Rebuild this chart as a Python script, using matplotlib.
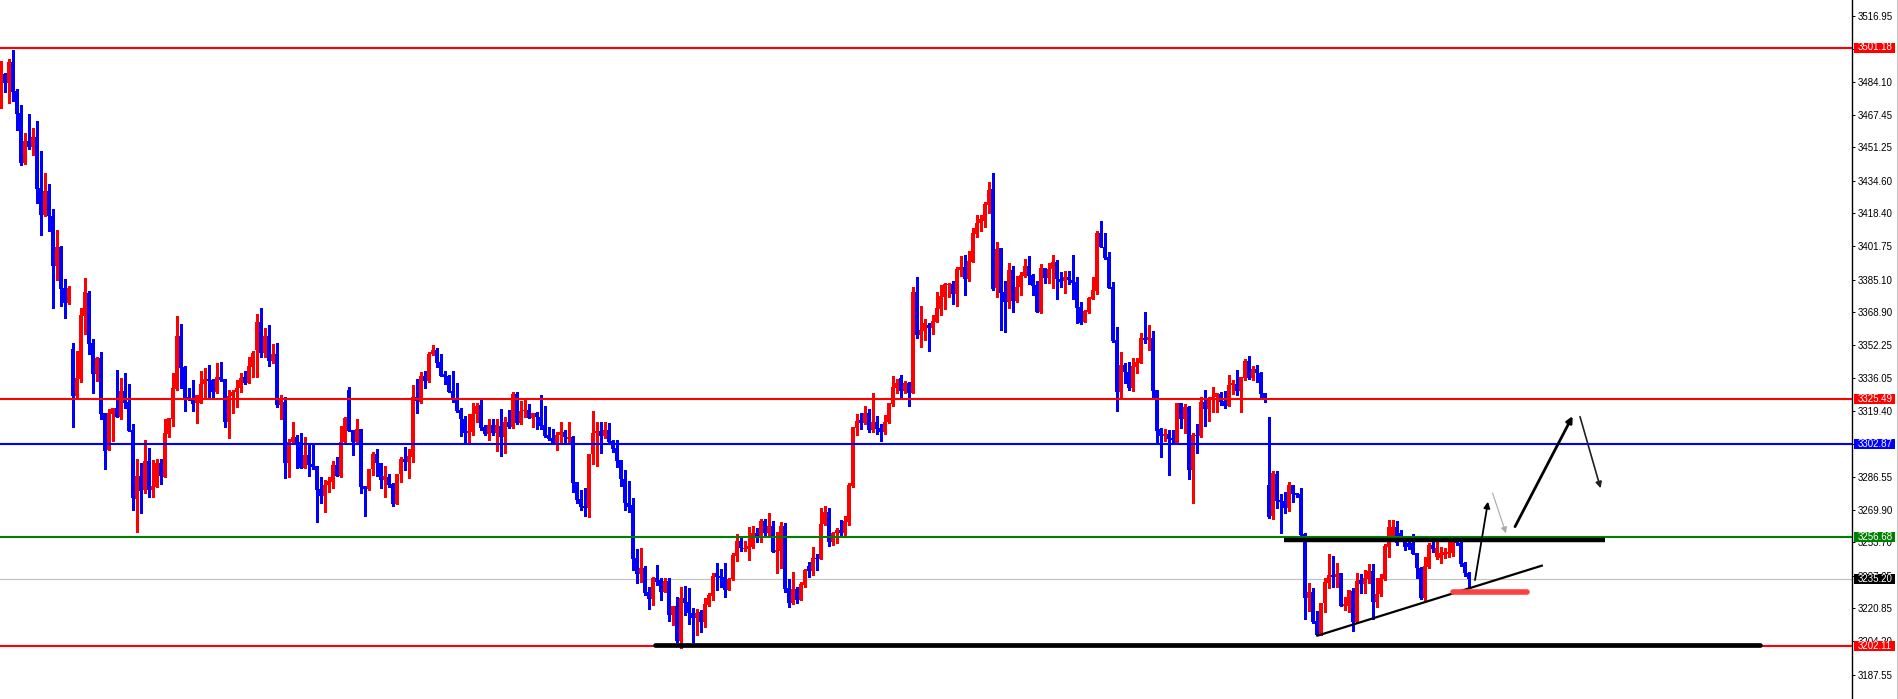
import matplotlib
matplotlib.use('Agg')
import numpy as np
import matplotlib.pyplot as plt
from matplotlib.lines import Line2D
from matplotlib.patches import Rectangle

# candle data (price units)
opens = [
    3472.4, 3487.8, 3483.6, 3493.8, 3479.6, 3468.3, 3443.3, 3454.4, 3451.6, 3456.6,
    3431.1, 3417.4, 3429.4, 3416.9, 3391.9, 3401.6, 3381.1, 3373.3, 3350.4, 3326.9,
    3335.4, 3367.1, 3378.6, 3353.6, 3337.9, 3346.1, 3318.6, 3299.9, 3318.0, 3321.0,
    3316.3, 3329.4, 3324.1, 3309.9, 3275.4, 3286.9, 3279.9, 3294.4, 3279.9, 3281.6,
    3293.3, 3286.6, 3308.0, 3315.4, 3330.4, 3357.1, 3341.6, 3326.6, 3324.9, 3323.3,
    3323.6, 3332.9, 3335.4, 3334.9, 3329.1, 3336.3, 3335.3, 3314.1, 3326.9, 3329.1,
    3330.8, 3336.3, 3333.3, 3341.6, 3349.9, 3364.0, 3348.3, 3356.9, 3344.6, 3347.9,
    3322.4, 3324.1, 3293.6, 3303.8, 3306.6, 3303.8, 3291.1, 3297.4, 3292.9, 3291.9,
    3280.4, 3276.9, 3282.4, 3284.1, 3292.4, 3287.1, 3303.8, 3329.9, 3309.9, 3303.8,
    3310.4, 3281.9, 3280.4, 3290.4, 3297.9, 3293.3, 3284.9, 3286.6, 3282.9, 3272.9,
    3287.9, 3295.4, 3294.1, 3296.6, 3326.3, 3324.1, 3336.9, 3334.4, 3347.7, 3349.9,
    3343.8, 3337.7, 3336.9, 3329.4, 3325.6, 3319.9, 3315.4, 3308.3, 3309.1, 3317.9,
    3322.4, 3311.3, 3307.9, 3312.4, 3308.3, 3312.1, 3306.3, 3314.1, 3311.6, 3327.9,
    3313.3, 3319.4, 3319.9, 3315.8, 3318.6, 3316.6, 3312.4, 3307.4, 3305.8, 3303.6,
    3307.4, 3308.8, 3305.4, 3306.3, 3283.8, 3275.4, 3272.1, 3271.1, 3297.9, 3308.3,
    3309.6, 3307.1, 3309.9, 3304.4, 3301.1, 3294.9, 3285.4, 3273.6, 3272.4, 3245.8,
    3237.8, 3241.1, 3229.1, 3225.4, 3235.7, 3234.9, 3229.1, 3234.6, 3217.4, 3221.9,
    3204.4, 3225.8, 3224.1, 3218.3, 3215.8, 3219.1, 3213.8, 3222.6, 3227.1, 3238.6,
    3236.9, 3236.6, 3229.9, 3235.2, 3247.1, 3254.4, 3250.4, 3250.4, 3251.6, 3258.3,
    3257.1, 3264.4, 3258.3, 3261.9, 3249.1, 3249.6, 3261.9, 3230.8, 3223.6, 3230.4,
    3224.9, 3232.4, 3241.9, 3239.6, 3246.1, 3245.4, 3262.9, 3269.1, 3254.1, 3258.3,
    3259.9, 3258.3, 3264.1, 3281.9, 3311.1, 3314.9, 3313.3, 3318.3, 3309.9, 3313.8,
    3310.8, 3309.1, 3314.1, 3322.9, 3331.1, 3335.8, 3329.4, 3333.3, 3328.6, 3379.1,
    3357.4, 3359.6, 3362.4, 3361.1, 3364.1, 3370.6, 3376.6, 3382.4, 3382.9, 3377.9,
    3389.9, 3391.6, 3385.4, 3394.1, 3407.9, 3413.3, 3414.6, 3422.4, 3430.3, 3380.8,
    3400.8, 3379.1, 3374.1, 3389.9, 3374.4, 3381.3, 3386.9, 3391.9, 3387.4, 3382.4,
    3368.8, 3390.8, 3386.1, 3390.3, 3394.1, 3385.4, 3384.6, 3386.3, 3384.9, 3384.1,
    3371.6, 3364.1, 3368.8, 3375.4, 3379.6, 3408.6, 3401.6, 3396.6, 3381.6, 3354.9,
    3329.1, 3342.4, 3338.8, 3330.8, 3341.6, 3343.3, 3355.8, 3354.9, 3356.1, 3329.9,
    3310.3, 3307.1, 3307.9, 3306.1, 3303.6, 3323.3, 3315.4, 3321.6, 3289.9, 3307.4,
    3306.9, 3324.1, 3320.3, 3324.9, 3326.3, 3327.9, 3324.4, 3321.9, 3332.4, 3332.9,
    3329.4, 3336.1, 3344.4, 3336.1, 3340.3, 3338.6, 3328.6, 3282.4, 3266.9, 3287.9,
    3274.9, 3274.4, 3271.1, 3282.4, 3278.3, 3277.9, 3257.9, 3226.1, 3228.8, 3214.4,
    3207.4, 3223.3, 3233.6, 3237.4, 3236.6, 3238.3, 3222.1, 3222.1, 3229.6, 3214.1,
    3234.9, 3232.8, 3235.4, 3239.4, 3224.1, 3227.8, 3235.4, 3251.6, 3256.6, 3261.6,
    3258.6, 3254.1, 3253.3, 3253.3, 3248.3, 3240.7, 3225.8, 3241.6, 3252.4, 3246.6,
    3245.8, 3247.4, 3247.9, 3248.3, 3254.1, 3253.3, 3243.3, 3238.3,
]
highs = [
    3494.6, 3488.3, 3495.4, 3499.9, 3480.4, 3472.4, 3458.3, 3467.9, 3460.8, 3464.4,
    3449.4, 3438.6, 3432.9, 3420.4, 3409.9, 3402.1, 3385.4, 3381.9, 3353.3, 3349.4,
    3371.1, 3386.1, 3379.6, 3355.3, 3346.6, 3349.1, 3318.6, 3320.3, 3321.0, 3339.9,
    3335.8, 3338.6, 3332.9, 3312.9, 3295.4, 3293.3, 3304.9, 3301.1, 3294.9, 3295.3,
    3295.3, 3315.4, 3315.8, 3338.6, 3367.1, 3362.9, 3342.1, 3331.1, 3334.9, 3327.4,
    3339.4, 3341.1, 3342.4, 3335.3, 3343.3, 3344.1, 3335.3, 3329.9, 3329.9, 3334.9,
    3338.3, 3339.4, 3346.6, 3349.4, 3368.0, 3371.0, 3360.8, 3362.4, 3352.9, 3353.6,
    3327.4, 3326.3, 3305.4, 3314.1, 3307.4, 3308.3, 3306.3, 3302.4, 3302.4, 3291.9,
    3286.3, 3284.9, 3286.6, 3294.4, 3296.6, 3311.9, 3316.3, 3331.6, 3309.9, 3315.4,
    3310.4, 3281.9, 3290.4, 3299.1, 3300.4, 3293.3, 3291.9, 3287.9, 3283.3, 3287.9,
    3296.6, 3301.3, 3300.3, 3332.4, 3335.3, 3338.8, 3339.4, 3349.1, 3352.4, 3351.1,
    3347.9, 3339.4, 3337.4, 3339.6, 3333.6, 3321.1, 3316.9, 3317.8, 3323.3, 3323.3,
    3324.9, 3312.4, 3315.3, 3315.3, 3315.3, 3320.3, 3316.6, 3319.9, 3329.1, 3329.1,
    3324.6, 3324.9, 3322.8, 3318.6, 3319.1, 3327.4, 3321.9, 3311.6, 3310.3, 3308.8,
    3313.8, 3309.9, 3313.8, 3306.9, 3284.1, 3279.9, 3280.8, 3297.9, 3319.4, 3313.8,
    3313.8, 3313.8, 3313.3, 3304.9, 3304.9, 3294.9, 3289.9, 3284.4, 3275.7, 3250.4,
    3250.8, 3242.1, 3231.6, 3236.6, 3242.4, 3235.7, 3236.1, 3235.7, 3221.9, 3226.6,
    3231.6, 3231.9, 3230.7, 3220.8, 3220.3, 3219.9, 3225.8, 3228.6, 3238.6, 3243.3,
    3240.3, 3243.6, 3235.7, 3248.6, 3257.9, 3256.9, 3254.4, 3261.6, 3262.1, 3260.8,
    3265.4, 3265.3, 3268.3, 3264.4, 3259.1, 3264.1, 3263.6, 3235.3, 3238.8, 3231.6,
    3234.1, 3240.4, 3244.1, 3251.6, 3247.8, 3270.7, 3271.9, 3270.7, 3259.1, 3261.1,
    3264.9, 3266.9, 3283.3, 3311.6, 3317.9, 3318.3, 3321.9, 3320.3, 3328.3, 3316.9,
    3312.8, 3317.4, 3323.6, 3336.9, 3335.3, 3337.4, 3334.6, 3334.1, 3381.6, 3386.6,
    3371.9, 3365.3, 3363.3, 3367.4, 3379.1, 3382.4, 3383.3, 3383.6, 3384.6, 3391.6,
    3396.9, 3397.4, 3399.6, 3410.8, 3417.4, 3417.4, 3424.1, 3434.1, 3438.3, 3404.1,
    3401.1, 3384.4, 3393.6, 3391.9, 3386.9, 3389.1, 3395.3, 3396.9, 3387.9, 3384.4,
    3392.9, 3390.8, 3393.3, 3397.4, 3394.9, 3389.1, 3389.6, 3389.4, 3397.4, 3386.6,
    3374.1, 3369.9, 3376.6, 3386.6, 3409.4, 3414.4, 3408.3, 3399.1, 3384.1, 3361.6,
    3349.1, 3343.6, 3344.1, 3346.1, 3345.8, 3358.3, 3369.1, 3362.4, 3359.4, 3329.9,
    3310.8, 3310.3, 3309.9, 3309.9, 3323.6, 3323.6, 3322.9, 3321.9, 3308.3, 3312.9,
    3326.6, 3329.9, 3326.3, 3331.6, 3328.6, 3329.1, 3329.6, 3337.4, 3334.9, 3339.9,
    3336.3, 3345.3, 3346.9, 3341.9, 3342.4, 3339.1, 3328.6, 3316.6, 3289.6, 3289.6,
    3277.9, 3279.1, 3284.1, 3282.4, 3278.6, 3281.1, 3258.3, 3233.6, 3231.1, 3219.4,
    3223.6, 3235.8, 3247.9, 3246.9, 3243.3, 3238.3, 3226.6, 3229.9, 3230.8, 3238.3,
    3237.7, 3239.9, 3242.8, 3242.8, 3235.8, 3237.7, 3252.8, 3264.9, 3264.9, 3264.4,
    3259.9, 3256.6, 3254.4, 3257.7, 3248.3, 3241.6, 3246.6, 3253.6, 3256.6, 3254.9,
    3251.6, 3251.1, 3254.4, 3256.6, 3255.4, 3254.4, 3244.1, 3238.9,
]
lows = [
    3471.1, 3479.1, 3473.3, 3474.4, 3459.9, 3442.4, 3442.9, 3450.4, 3447.4, 3423.6,
    3407.4, 3416.9, 3409.4, 3371.1, 3384.9, 3372.1, 3366.1, 3372.7, 3311.6, 3325.3,
    3333.8, 3357.9, 3347.9, 3328.6, 3334.6, 3315.4, 3290.4, 3299.9, 3304.4, 3316.3,
    3315.4, 3321.1, 3309.6, 3269.9, 3259.1, 3268.3, 3278.3, 3276.6, 3276.6, 3281.6,
    3282.9, 3286.6, 3306.6, 3311.9, 3329.9, 3330.8, 3319.6, 3324.9, 3319.6, 3313.6,
    3323.6, 3325.3, 3325.3, 3325.3, 3328.6, 3334.6, 3311.6, 3305.8, 3318.6, 3321.6,
    3329.1, 3332.8, 3333.3, 3336.6, 3336.6, 3346.3, 3346.6, 3342.1, 3343.3, 3321.6,
    3315.4, 3286.1, 3286.6, 3302.9, 3291.1, 3291.1, 3291.1, 3287.1, 3290.4, 3264.1,
    3273.6, 3269.1, 3279.1, 3280.8, 3287.1, 3286.6, 3302.9, 3309.6, 3297.4, 3303.8,
    3278.3, 3266.9, 3279.9, 3287.4, 3287.1, 3280.8, 3276.6, 3281.6, 3272.1, 3272.9,
    3284.1, 3289.9, 3286.1, 3294.1, 3318.3, 3323.6, 3330.8, 3334.1, 3347.4, 3341.6,
    3337.1, 3332.9, 3328.8, 3324.1, 3319.1, 3307.1, 3303.3, 3304.1, 3307.4, 3313.8,
    3309.9, 3307.4, 3304.9, 3307.4, 3299.6, 3297.0, 3298.6, 3310.8, 3311.1, 3312.8,
    3312.9, 3316.6, 3315.8, 3311.6, 3310.3, 3310.3, 3306.6, 3304.9, 3303.3, 3299.9,
    3304.1, 3304.1, 3304.1, 3279.1, 3273.6, 3269.9, 3266.9, 3266.3, 3292.9, 3291.9,
    3298.3, 3305.8, 3304.1, 3299.1, 3291.3, 3281.9, 3269.9, 3269.1, 3239.9, 3233.3,
    3234.1, 3227.4, 3220.3, 3222.4, 3232.4, 3224.9, 3229.1, 3214.6, 3212.4, 3204.1,
    3200.8, 3217.4, 3212.8, 3204.1, 3207.4, 3208.8, 3211.6, 3221.9, 3224.9, 3229.9,
    3231.6, 3226.6, 3229.9, 3234.9, 3244.6, 3249.6, 3249.6, 3244.9, 3251.1, 3254.1,
    3254.1, 3256.6, 3256.9, 3249.1, 3238.6, 3240.7, 3229.1, 3221.6, 3222.8, 3223.3,
    3224.9, 3231.6, 3236.6, 3237.4, 3239.9, 3245.4, 3262.4, 3251.9, 3252.4, 3253.3,
    3256.6, 3257.4, 3262.4, 3281.6, 3307.4, 3310.3, 3312.9, 3309.1, 3309.1, 3307.9,
    3304.6, 3307.9, 3313.3, 3321.9, 3328.3, 3326.6, 3328.3, 3321.9, 3328.6, 3355.8,
    3351.6, 3354.9, 3349.4, 3357.9, 3364.1, 3367.4, 3370.4, 3376.6, 3372.9, 3371.9,
    3386.9, 3377.4, 3384.6, 3394.1, 3406.3, 3409.6, 3411.6, 3418.6, 3379.9, 3376.3,
    3359.9, 3359.1, 3371.1, 3369.1, 3374.1, 3377.4, 3386.3, 3382.9, 3377.4, 3369.1,
    3368.6, 3383.3, 3383.3, 3380.8, 3375.3, 3381.3, 3378.3, 3382.9, 3375.3, 3363.3,
    3362.9, 3364.1, 3368.3, 3375.4, 3377.8, 3401.6, 3395.3, 3381.1, 3354.1, 3319.6,
    3326.1, 3333.3, 3329.9, 3329.4, 3338.3, 3343.3, 3353.3, 3349.9, 3326.1, 3303.3,
    3296.6, 3304.6, 3287.4, 3302.7, 3303.3, 3310.8, 3308.3, 3285.4, 3273.6, 3298.3,
    3306.6, 3311.9, 3314.6, 3319.1, 3319.1, 3322.4, 3321.1, 3321.9, 3327.9, 3327.4,
    3319.1, 3334.9, 3335.3, 3334.9, 3334.1, 3325.3, 3324.1, 3265.8, 3265.3, 3270.8,
    3258.3, 3268.6, 3269.4, 3274.1, 3276.6, 3256.9, 3215.3, 3219.6, 3213.3, 3207.4,
    3207.4, 3219.1, 3230.8, 3231.6, 3231.3, 3221.9, 3219.9, 3219.1, 3209.6, 3214.1,
    3228.3, 3228.3, 3233.3, 3215.4, 3221.6, 3226.9, 3234.9, 3246.6, 3256.6, 3252.4,
    3254.9, 3249.9, 3250.4, 3247.9, 3235.7, 3225.3, 3224.1, 3240.7, 3249.1, 3245.4,
    3243.6, 3245.9, 3246.6, 3247.1, 3252.4, 3241.9, 3236.9, 3231.3,
]
closes = [
    3487.4, 3483.6, 3494.1, 3479.1, 3467.9, 3443.3, 3454.4, 3451.6, 3456.6, 3430.4,
    3417.4, 3429.4, 3416.9, 3391.9, 3401.6, 3380.4, 3373.3, 3381.1, 3326.9, 3336.1,
    3367.4, 3378.8, 3352.9, 3337.9, 3346.1, 3317.9, 3299.6, 3318.6, 3321.0, 3316.3,
    3329.4, 3323.6, 3309.6, 3276.1, 3286.9, 3279.6, 3294.4, 3279.9, 3281.9, 3293.3,
    3286.9, 3308.3, 3315.8, 3330.8, 3357.1, 3341.1, 3326.1, 3324.9, 3322.8, 3327.4,
    3332.9, 3335.4, 3334.6, 3329.1, 3336.3, 3334.9, 3314.1, 3326.9, 3329.1, 3330.8,
    3335.8, 3333.3, 3342.1, 3348.3, 3364.0, 3348.3, 3356.9, 3344.6, 3347.9, 3322.4,
    3324.9, 3293.6, 3303.8, 3306.6, 3303.0, 3291.1, 3297.4, 3292.4, 3291.6, 3279.9,
    3276.9, 3282.4, 3284.4, 3292.4, 3287.1, 3303.8, 3315.8, 3309.6, 3303.8, 3310.4,
    3281.6, 3280.4, 3290.4, 3297.9, 3293.3, 3284.9, 3287.1, 3282.4, 3272.9, 3287.9,
    3295.4, 3294.1, 3296.9, 3326.3, 3324.4, 3336.9, 3334.4, 3347.9, 3349.9, 3343.3,
    3337.1, 3336.6, 3329.1, 3324.9, 3319.6, 3315.3, 3308.3, 3309.4, 3317.9, 3321.9,
    3311.1, 3307.9, 3312.4, 3308.3, 3312.4, 3306.3, 3314.1, 3311.6, 3327.9, 3313.3,
    3319.4, 3320.1, 3315.8, 3318.6, 3316.3, 3311.9, 3306.9, 3305.4, 3303.6, 3307.4,
    3308.8, 3306.3, 3306.6, 3283.6, 3274.9, 3271.3, 3271.1, 3297.9, 3308.6, 3309.6,
    3307.1, 3309.9, 3304.1, 3300.3, 3294.6, 3285.3, 3273.3, 3271.6, 3245.4, 3237.8,
    3241.1, 3228.3, 3225.4, 3235.7, 3234.1, 3229.1, 3234.6, 3217.4, 3221.9, 3204.4,
    3225.8, 3223.6, 3218.3, 3215.8, 3218.3, 3213.8, 3222.9, 3227.4, 3236.9, 3236.6,
    3236.1, 3229.9, 3235.3, 3247.4, 3254.4, 3250.8, 3251.1, 3252.1, 3258.3, 3257.1,
    3264.4, 3258.3, 3261.9, 3249.1, 3249.9, 3261.9, 3230.4, 3223.6, 3230.4, 3224.9,
    3232.9, 3239.9, 3239.6, 3246.1, 3245.4, 3262.9, 3269.1, 3254.1, 3258.6, 3259.9,
    3258.6, 3264.4, 3282.4, 3311.6, 3314.4, 3313.3, 3318.3, 3309.9, 3313.8, 3310.3,
    3309.1, 3314.1, 3323.3, 3331.3, 3333.3, 3329.6, 3333.3, 3328.6, 3379.1, 3357.4,
    3359.9, 3363.3, 3361.1, 3364.4, 3371.1, 3376.9, 3382.9, 3382.9, 3377.9, 3390.4,
    3391.6, 3385.4, 3394.6, 3408.6, 3413.6, 3415.3, 3422.9, 3429.9, 3380.4, 3400.3,
    3378.6, 3374.1, 3389.9, 3374.4, 3381.3, 3387.4, 3391.9, 3386.9, 3381.9, 3369.1,
    3390.8, 3386.1, 3390.4, 3394.1, 3385.3, 3384.1, 3386.3, 3384.9, 3383.6, 3371.1,
    3363.3, 3369.4, 3376.1, 3379.9, 3408.3, 3401.6, 3396.1, 3381.1, 3354.4, 3329.1,
    3342.4, 3338.8, 3330.8, 3342.1, 3344.1, 3355.8, 3354.9, 3356.3, 3329.4, 3309.4,
    3306.9, 3307.4, 3305.4, 3304.9, 3323.6, 3315.4, 3321.6, 3289.9, 3307.4, 3306.9,
    3324.1, 3320.3, 3325.4, 3326.6, 3328.3, 3324.1, 3321.9, 3332.4, 3333.3, 3329.4,
    3336.3, 3344.4, 3336.1, 3340.3, 3338.3, 3327.9, 3324.9, 3266.6, 3288.6, 3274.6,
    3274.1, 3271.1, 3282.4, 3277.9, 3277.4, 3257.4, 3226.1, 3228.8, 3214.1, 3207.4,
    3223.3, 3234.1, 3237.4, 3236.6, 3237.9, 3222.1, 3222.4, 3229.9, 3214.1, 3234.4,
    3232.8, 3236.1, 3239.4, 3224.1, 3227.8, 3236.1, 3252.1, 3261.6, 3261.6, 3253.3,
    3256.3, 3251.6, 3251.6, 3247.9, 3240.7, 3225.8, 3241.9, 3252.4, 3250.3, 3250.8,
    3248.3, 3249.1, 3249.1, 3254.1, 3253.3, 3242.9, 3238.3, 3235.2,
]

# horizontal levels with their price tags
level_prices = [3501.18, 3325.49, 3302.87, 3256.68, 3202.11]
level_colors = ['#ff0000', '#ff0000', '#0000ff', '#008000', '#ff0000']
bid_price = 3235.20

# price scale ticks (MT4 style, uneven)
tick_values = [3516.95, 3500.55, 3484.10, 3467.45, 3451.25, 3434.60, 3418.40, 3401.75,
               3385.10, 3368.90, 3352.25, 3336.05, 3319.40, 3302.75, 3286.55, 3269.90,
               3253.70, 3237.05, 3220.85, 3204.20, 3187.55]

opens = np.array(opens)
highs = np.array(highs)
lows = np.array(lows)
closes = np.array(closes)
x = np.arange(len(closes))

W, H = 1899, 699
fig = plt.figure(figsize=(W / 100, H / 100), dpi=100)
fig.patch.set_facecolor('white')
ax = fig.add_axes([0, 0, 1852 / W, 1])
ax.set_xlim(-0.25, 462.75)
ax.set_ylim(3175.43, 3524.93)

# candles: red = up, blue = down
colors = np.where(closes >= opens, '#ff0000', '#0000ff')
ax.vlines(x, lows, highs, colors=colors, lw=0.8, antialiased=False, zorder=2)
body_bottom = np.minimum(opens, closes)
body_height = np.maximum(np.abs(closes - opens), 0.6)
ax.bar(x, body_height, bottom=body_bottom, width=0.75, color=colors,
       linewidth=0, antialiased=False, zorder=2)

# bid line behind nothing, levels on top
ax.axhline(bid_price, color='#c0c0c0', lw=0.8, zorder=1)
for p, c in zip(level_prices, level_colors):
    ax.axhline(p, color=c, lw=1.5, zorder=3)

# hand drawn objects
ax.plot([163.5, 439.75], [3202.4, 3202.4], color='black', lw=3.4,
        solid_capstyle='round', zorder=4)
ax.plot([320.75, 400.9], [3255.1, 3255.1], color='black', lw=3.2,
        solid_capstyle='butt', zorder=4)
ax.plot([329.1, 385.2], [3207.1, 3242.1], color='black', lw=1.6, zorder=4)
ax.plot([362.9, 381.6], [3229.1, 3229.1], color='#ff4040', lw=4.0,
        solid_capstyle='round', zorder=4)

arrows = [((368.5, 3234.9), (371.75, 3274.1), 'black', 1.3),
          ((372.9, 3278.4), (376.25, 3258.3), '#a8a8a8', 0.8),
          ((378.5, 3261.6), (392.9, 3316.9), 'black', 2.0),
          ((394.75, 3316.6), (399.9, 3280.8), '#202020', 1.2)]
for start, end, c, lw in arrows:
    ax.annotate('', xy=end, xytext=start,
                arrowprops=dict(arrowstyle='-|>', color=c, lw=lw, mutation_scale=9,
                                shrinkA=0, shrinkB=0), zorder=5)

# right price axis
for s in ['top', 'left', 'bottom']:
    ax.spines[s].set_visible(False)
ax.spines['right'].set_linewidth(1.0)
ax.set_xticks([])
ax.yaxis.tick_right()
ax.set_yticks(tick_values)
ax.set_yticklabels(['%.2f' % v for v in tick_values], fontsize=7,
                   family='Liberation Sans')
ax.tick_params(axis='y', length=2.2, width=0.7, pad=2.2, colors='black')

# price tags on the axis
tr = ax.get_yaxis_transform()
tags = list(zip(level_prices, level_colors)) + [(bid_price, 'black')]
for p, c in tags:
    ax.add_patch(Rectangle((1 + 2 / 1852, p - 2.5), 41 / 1852, 5.0, transform=tr,
                           facecolor=c, edgecolor='none', clip_on=False, zorder=10))
    ax.text(1 + 6 / 1852, p, '%.2f' % p, transform=tr, color='white', fontsize=7,
            family='Liberation Sans', va='center', ha='left', clip_on=False, zorder=11)

fig.add_artist(Line2D([1897.5 / W, 1897.5 / W], [0, 1], color='#c8c8c8', lw=0.8))

fig.savefig('out.png', dpi=100, facecolor='white')
